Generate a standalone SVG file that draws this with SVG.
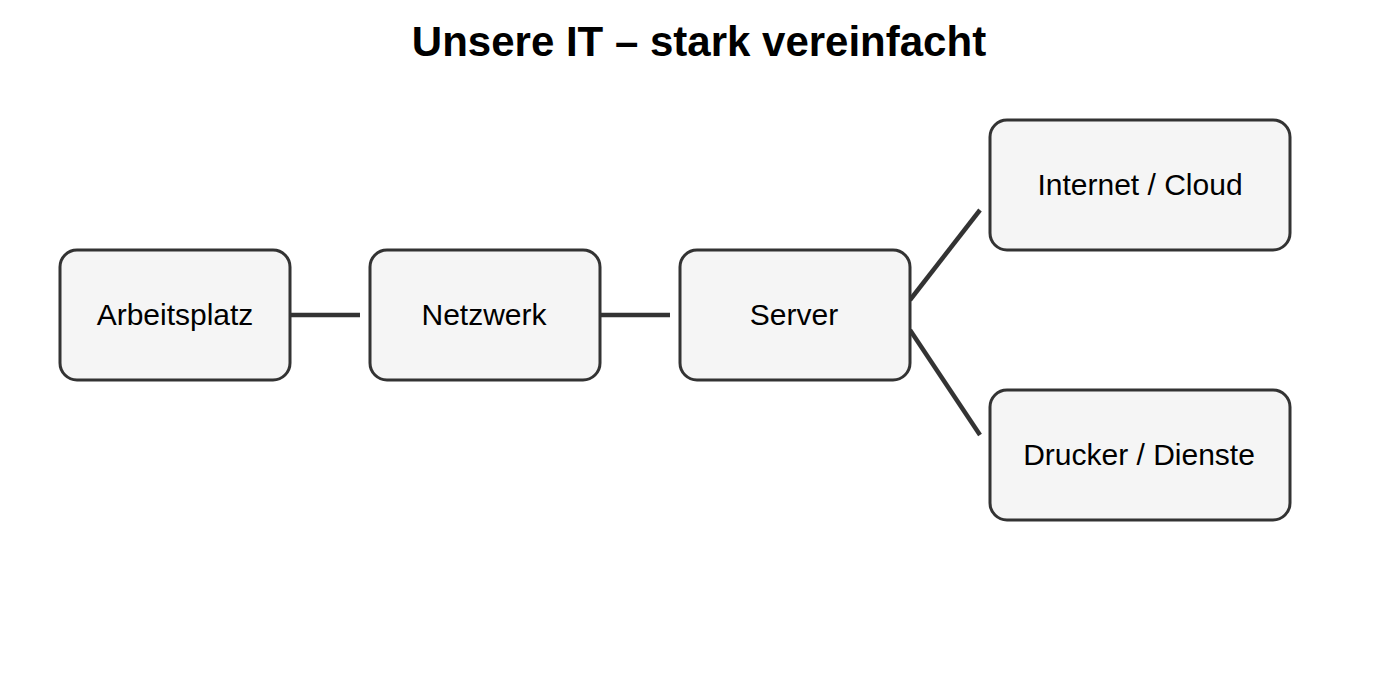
<svg xmlns="http://www.w3.org/2000/svg" width="1400" height="700" viewBox="0 0 1400 700">
<style>
.node rect{fill:#f5f5f5;stroke:#333333;stroke-width:3}
.node text{font-family:"Liberation Sans",Arial,sans-serif;font-size:30px;fill:#000;text-anchor:middle}
.title{font-family:"Liberation Sans",Arial,sans-serif;font-size:42px;font-weight:bold;fill:#000;text-anchor:middle}
#connectors line{stroke:#333333;stroke-width:4.5;stroke-linecap:butt}
</style>
<rect width="1400" height="700" fill="#ffffff"/>
<text class="title" x="699" y="56">Unsere IT – stark vereinfacht</text>
<g id="connectors">
<line x1="290" y1="315" x2="360" y2="315"/>
<line x1="600" y1="315" x2="670" y2="315"/>
<line x1="910" y1="300" x2="980" y2="210"/>
<line x1="910" y1="330" x2="980" y2="435"/>
</g>
<g id="arbeitsplatz" class="node"><rect x="60" y="250" width="230" height="130" rx="17"/><text x="175" y="325">Arbeitsplatz</text></g>
<g id="netzwerk" class="node"><rect x="370" y="250" width="230" height="130" rx="17"/><text x="484" y="325">Netzwerk</text></g>
<g id="server" class="node"><rect x="680" y="250" width="230" height="130" rx="17"/><text x="794" y="325">Server</text></g>
<g id="internet" class="node"><rect x="990" y="120" width="300" height="130" rx="17"/><text x="1140" y="195">Internet / Cloud</text></g>
<g id="drucker" class="node"><rect x="990" y="390" width="300" height="130" rx="17"/><text x="1139" y="465">Drucker / Dienste</text></g>
</svg>
